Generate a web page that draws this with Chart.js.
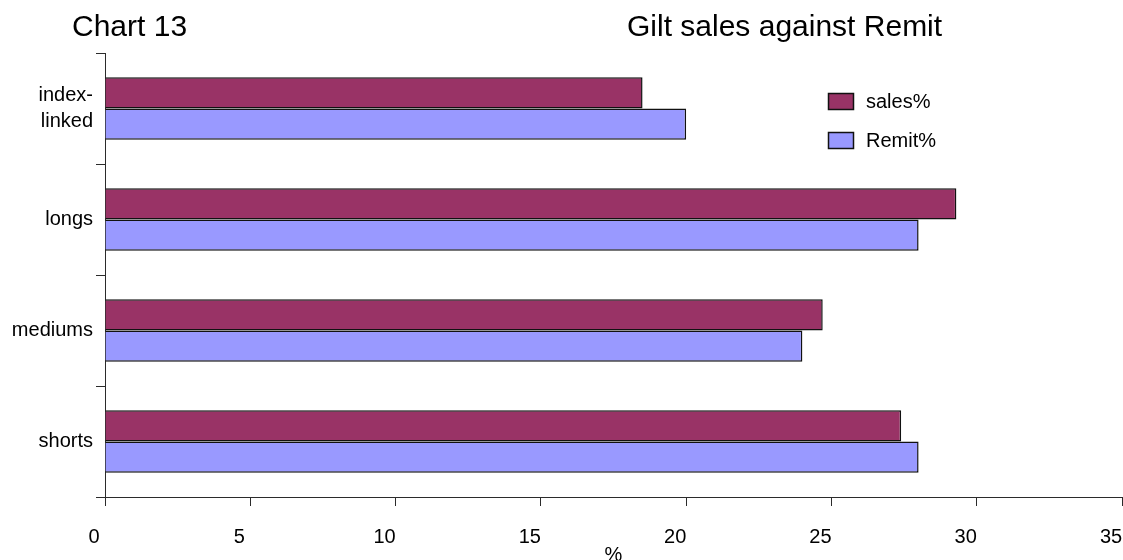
<!DOCTYPE html>
<html>
<head>
<meta charset="utf-8">
<script src="https://cdn.jsdelivr.net/npm/chart.js@4/dist/chart.umd.min.js"></script>
<style>
  html, body { margin: 0; padding: 0; background: #ffffff; }
  #wrap { width: 1123px; height: 560px; }
</style>
</head>
<body>
<div id="wrap"><canvas id="c" width="1123" height="560"></canvas></div>
<script>
// Gilt categories, top to bottom
const categories = [['index-', 'linked'], 'longs', 'mediums', 'shorts'];
// Share of gilt sales (%)
const salesPct = [18.5, 29.3, 24.7, 27.4];
// Share of Remit (%)
const remitPct = [20.0, 28.0, 24.0, 28.0];
const seriesNames = ['sales%', 'Remit%'];
const xTicks = [0, 5, 10, 15, 20, 25, 30, 35];

const FONT = "'Liberation Sans', Arial, sans-serif";
const AXIS = '#2b2b2b';
const EDGE = '#111111';

// Headings and legend drawn on top of the chart
const decorations = {
  id: 'decorations',
  afterDraw(chart) {
    const ctx = chart.ctx;
    ctx.save();
    ctx.fillStyle = '#000';
    ctx.font = '30px ' + FONT;
    ctx.textBaseline = 'alphabetic';
    ctx.textAlign = 'left';
    ctx.fillText('Chart 13', 72, 36);
    ctx.fillText('Gilt sales against Remit', 627, 36);

    ctx.font = '20px ' + FONT;
    ctx.textBaseline = 'middle';
    chart.data.datasets.forEach((ds, i) => {
      const y = 93 + i * 39;
      ctx.fillStyle = ds.backgroundColor;
      ctx.fillRect(828, y, 26, 17);
      ctx.strokeStyle = EDGE;
      ctx.lineWidth = 1.5;
      ctx.strokeRect(828.5, y + 0.5, 25, 16);
      ctx.fillStyle = '#000';
      ctx.fillText(ds.label, 866, y + 9);
    });
    ctx.restore();
  }
};

new Chart(document.getElementById('c'), {
  type: 'bar',
  data: {
    labels: categories,
    datasets: [
      { label: seriesNames[0], data: salesPct, backgroundColor: '#993366', borderColor: EDGE, borderWidth: 1.5 },
      { label: seriesNames[1], data: remitPct, backgroundColor: '#9999ff', borderColor: EDGE, borderWidth: 1.5 }
    ]
  },
  options: {
    indexAxis: 'y',
    responsive: false,
    animation: false,
    devicePixelRatio: 1,
    layout: { padding: { top: 53, left: 0, right: 1, bottom: 0 } },
    datasets: { bar: { categoryPercentage: 0.565, barPercentage: 1.0 } },
    plugins: {
      legend: { display: false },
      title: { display: false },
      tooltip: { enabled: false }
    },
    scales: {
      x: {
        type: 'linear',
        position: 'bottom',
        min: 0,
        max: 35,
        afterBuildTicks(scale) { scale.ticks = xTicks.map(v => ({ value: v })); },
        ticks: {
          stepSize: 5,
          color: '#000',
          font: { family: FONT, size: 20 },
          padding: 19,
          labelOffset: -11,
          maxRotation: 0,
          autoSkip: false
        },
        grid: { drawOnChartArea: false, drawTicks: true, tickLength: 9, color: AXIS, lineWidth: 1 },
        border: { display: true, color: AXIS, width: 1 },
        title: {
          display: true,
          text: '%',
          color: '#000',
          font: { family: FONT, size: 20, lineHeight: 1 },
          padding: { top: 0, bottom: -5 }
        },
        afterFit(scale) {
          scale.height = 63;
          scale.paddingLeft = 0;
          scale.paddingRight = 0;
        }
      },
      y: {
        type: 'category',
        position: 'left',
        ticks: {
          color: '#000',
          font: { family: FONT, size: 20, lineHeight: 1.3 },
          padding: 3,
          autoSkip: false
        },
        grid: { offset: true, drawOnChartArea: false, drawTicks: true, tickLength: 9, color: AXIS, lineWidth: 1 },
        border: { display: true, color: AXIS, width: 1 },
        afterFit(scale) {
          scale.width = 105;
          scale.paddingTop = 0;
          scale.paddingBottom = 0;
        }
      }
    }
  },
  plugins: [decorations]
});
</script>
</body>
</html>
